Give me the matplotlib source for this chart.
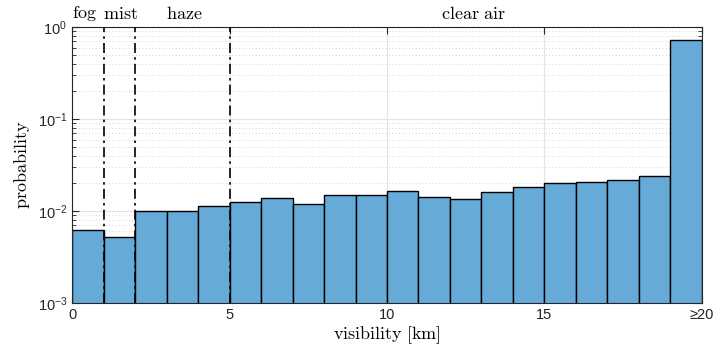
import numpy as np
import matplotlib
matplotlib.use("Agg")
import matplotlib.pyplot as plt
from matplotlib.ticker import LogLocator, NullFormatter, FixedLocator

plt.rcParams['mathtext.fontset'] = 'cm'
plt.rcParams['font.family'] = ['Liberation Sans', 'DejaVu Sans']

# histogram of visibility, 1 km bins, last bin is >= 19..20
bin_left = np.arange(0, 20)
probability = [0.0062, 0.0051, 0.0100, 0.0098, 0.0112, 0.0126, 0.0137, 0.0117,
               0.0147, 0.0147, 0.0166, 0.0142, 0.0136, 0.0160, 0.0182, 0.0201,
               0.0208, 0.0219, 0.0240, 0.716]

class_limits = [1, 2, 5]
class_names = ["fog", "mist", "haze", "clear air"]
class_pos = [0.4, 1.55, 3.55, 12.75]

xtick_pos = [0, 5, 10, 15, 20]
xtick_labels = ["0", "5", "10", "15", "\u226520"]

fig = plt.figure(figsize=(7.16, 3.52), dpi=100)
ax = fig.add_axes([0.1006, 0.139, 0.8798, 0.784])

ax.bar(bin_left, probability, width=1.0, align='edge', bottom=1e-4,
       color=(0.4, 0.668, 0.845), edgecolor='black', linewidth=1.0, zorder=2)

ax.set_yscale('log')
ax.set_ylim(1e-3, 1)
ax.set_xlim(0, 20)

for x in class_limits:
    ax.axvline(x, color='black', linestyle=(0, (6, 2.5, 1.5, 2.5)), linewidth=1.2, zorder=3)

for name, x in zip(class_names, class_pos):
    ax.text(x, 1.015, r"$\mathrm{" + name.replace(" ", r"\ ") + "}$",
            transform=ax.get_xaxis_transform(), ha='center', va='bottom',
            fontsize=13)

ax.xaxis.set_major_locator(FixedLocator(xtick_pos))
ax.set_xticklabels(xtick_labels)
ax.yaxis.set_major_locator(LogLocator(base=10, numticks=10))
ax.yaxis.set_minor_locator(LogLocator(base=10, subs=np.arange(2, 10), numticks=10))
ax.yaxis.set_minor_formatter(NullFormatter())

ax.grid(True, which='major', color='#e3e3e3', linewidth=0.8, zorder=0)
ax.grid(True, which='minor', axis='y', color='#c8c8c8', linestyle=(0, (1, 3)), linewidth=0.6, zorder=0)
ax.set_axisbelow(True)

ax.tick_params(which='both', direction='in', top=True, right=True,
               labelsize=10.5, colors='#262626', labelcolor='#262626')
ax.tick_params(which='major', length=5, width=0.8)
ax.tick_params(which='minor', length=3, width=0.6)
for s in ax.spines.values():
    s.set_color('#262626')
    s.set_linewidth(0.8)

ax.set_xlabel(r"$\mathrm{visibility\ [km]}$", fontsize=13, labelpad=2)
ax.set_ylabel(r"$\mathrm{probability}$", fontsize=13, labelpad=4)

fig.savefig("out.png", dpi=100)
